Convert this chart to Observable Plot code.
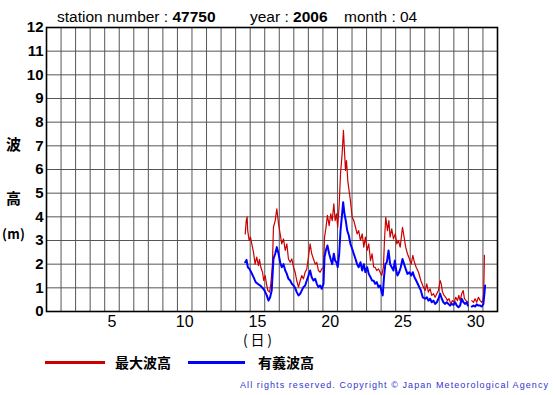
<!DOCTYPE html>
<html><head><meta charset="utf-8">
<script src="https://cdn.jsdelivr.net/npm/d3@7"></script>
<script src="https://cdn.jsdelivr.net/npm/@observablehq/plot@0.6"></script>
<style>html,body{margin:0;padding:0;background:#fff;} #chart{position:relative;width:555px;height:395px;}</style>
</head><body><div id="chart"></div>
<script>
const stationNumber = "47750", yearText = "2006", monthText = "04";

// time in days since 1 April 00:00 ; heights in metres
const maxTimes = [13.66,13.73,13.79,13.83,13.93,14.02,14.11,14.23,14.34,14.45,
14.57,14.64,14.73,14.85,14.93,15.03,15.12,15.21,15.33,15.42,
15.53,15.60,15.72,15.83,15.95,16.06,16.17,16.29,16.41,16.52,
16.63,16.75,16.86,16.98,17.09,17.20,17.32,17.44,17.55,17.66,
17.78,17.89,18.01,18.12,18.23,18.35,18.47,18.58,18.69,18.81,
18.92,19.04,19.11,19.20,19.31,19.43,19.54,19.64,19.75,19.84,
19.93,20.02,20.12,20.21,20.32,20.41,20.48,20.55,20.62,20.71,
20.80,20.89,21.01,21.12,21.24,21.35,21.46,21.58,21.70,21.81,
21.92,22.04,22.15,22.27,22.38,22.49,22.59,22.70,22.82,22.93,
23.04,23.16,23.23,23.32,23.44,23.53,23.62,23.73,23.85,23.97,
24.08,24.19,24.31,24.47,24.58,24.69,24.81,24.95,25.07,25.18,
25.29,25.41,25.57,25.73,25.86,25.91,26.03,26.14,26.25,26.37,
26.48,26.60,26.71,26.83,26.94,27.06,27.13,27.22,27.33,27.44,
27.56,27.67,27.79,27.90,28.02,28.13,28.25,28.34,28.43,28.54,
28.64,28.73,28.84,28.96,29.10,29.23,29.35,29.46,29.57,29.69,
29.81,29.92,29.99,30.05,30.10];
const maxHeights = [3.28,3.84,4.0,3.42,3.0,3.14,2.86,2.5,2.0,2.3,
1.94,2.2,1.87,1.66,1.31,1.52,1.17,0.89,0.82,1.17,
2.0,3.56,3.84,4.34,3.7,3.28,2.86,3.07,2.58,2.86,
2.22,2.08,2.22,1.87,1.66,1.31,1.03,1.31,1.52,1.38,
1.66,1.8,2.3,2.86,2.44,2.22,2.0,2.08,1.73,1.66,
1.8,1.87,3.14,3.49,4.06,3.63,4.13,3.84,4.55,3.84,
4.13,3.56,4.55,5.82,6.66,7.65,6.8,5.96,6.38,5.53,
5.1,4.69,3.98,3.84,3.56,3.28,3.42,3.0,3.28,2.72,
3.14,2.58,2.86,2.15,2.44,1.87,1.87,1.73,1.8,1.66,
1.52,1.87,3.0,3.98,3.42,3.84,3.14,3.49,3.07,3.28,
2.86,3.0,2.72,3.56,3.14,2.72,2.44,2.22,2.0,2.37,
2.08,1.87,1.66,1.31,1.1,1.03,0.89,1.17,0.82,0.96,
0.68,0.75,0.6,0.75,0.89,1.31,1.17,0.82,0.68,0.6,
0.46,0.54,0.32,0.46,0.39,0.6,0.46,0.68,0.46,0.75,
0.89,0.54,0.46,0.39,null,0.46,0.39,0.54,0.39,0.6,
0.46,0.39,0.46,0.75,2.37];

const sigTimes = [13.66,13.75,13.84,13.95,14.07,14.23,14.38,14.52,14.69,14.85,
14.98,15.14,15.26,15.37,15.48,15.60,15.72,15.83,15.95,16.06,
16.17,16.29,16.41,16.52,16.63,16.75,16.86,16.98,17.09,17.20,
17.32,17.44,17.55,17.66,17.78,17.89,18.01,18.12,18.23,18.35,
18.47,18.58,18.69,18.81,18.92,19.04,19.11,19.20,19.31,19.43,
19.54,19.64,19.75,19.84,19.93,20.02,20.12,20.21,20.32,20.39,
20.48,20.57,20.67,20.78,20.89,21.01,21.12,21.24,21.35,21.46,
21.58,21.70,21.81,21.92,22.04,22.15,22.27,22.38,22.49,22.59,
22.70,22.82,22.93,23.04,23.11,23.20,23.29,23.39,23.51,23.62,
23.73,23.85,23.94,24.04,24.12,24.24,24.35,24.47,24.58,24.69,
24.81,24.95,25.07,25.18,25.29,25.41,25.57,25.73,25.86,26.03,
26.14,26.25,26.37,26.48,26.60,26.71,26.83,26.94,27.06,27.17,
27.28,27.40,27.51,27.63,27.74,27.85,27.97,28.09,28.20,28.32,
28.43,28.54,28.66,28.78,28.89,28.96,29.10,29.23,29.35,29.46,
29.57,29.69,29.81,29.92,30.03,30.10,30.15];
const sigHeights = [2.08,2.18,1.87,1.8,1.66,1.45,1.24,1.17,1.1,1.0,
0.89,0.68,0.46,0.6,0.89,2.22,2.44,2.72,2.44,2.08,
1.87,2.0,1.73,1.59,1.38,1.31,1.17,1.1,1.0,0.82,
0.68,0.75,0.89,1.03,1.1,1.31,1.52,1.73,1.45,1.31,
1.38,1.17,1.03,1.1,0.96,1.17,2.3,2.58,2.79,2.44,
2.2,2.0,2.44,2.15,2.08,1.87,2.44,3.42,4.13,4.62,
4.13,3.84,3.42,3.21,2.86,2.65,2.44,2.22,2.0,1.87,
2.08,1.73,2.0,1.66,1.87,1.59,1.45,1.31,1.3,1.17,
1.24,1.03,1.1,0.82,0.68,1.45,2.0,2.08,2.58,2.0,
1.87,1.73,2.15,1.73,1.52,1.66,1.87,2.22,2.0,1.8,
1.59,1.66,1.52,1.66,1.45,1.31,1.1,0.89,0.6,0.54,
0.6,0.46,0.54,0.39,0.46,0.32,0.39,0.54,0.75,0.54,
0.39,0.32,0.39,0.32,0.25,0.32,0.28,0.39,0.25,0.18,
0.25,0.54,0.39,0.32,0.39,0.25,null,0.21,0.25,0.21,
0.3,0.25,0.25,0.21,0.32,0.75,1.1];

const dayGridLines = [0,1,2,3,4,5,6,7,8,9,10,11,12,13,14,15,16,17,18,19,20,21,22,23,24,25,26,27,28,29,30,31];
const yTicks = [0,1,2,3,4,5,6,7,8,9,10,11,12];
const xTickPositions = [4.5,9.5,14.5,19.5,24.5,29.5];
const xTickLabels = ["5","10","15","20","25","30"];
const seriesNames = ["最大波高","有義波高"];
const seriesColors = ["#cc0000","#0000ff"];

const maxData = maxTimes.map((t,i)=>({t, h: maxHeights[i]}));
const sigData = sigTimes.map((t,i)=>({t, h: sigHeights[i]}));
const xLabelAt = new Map(xTickPositions.map((p,i)=>[p, xTickLabels[i]]));

const W = 555, H = 395;
const svg = Plot.plot({
  width: W, height: H,
  marginLeft: 46, marginRight: 58, marginTop: 27, marginBottom: 84,
  x: {domain: [0, 31]},
  y: {domain: [0, 12]},
  style: {fontFamily: "'Liberation Sans', Arial, sans-serif", background: "#fff", color: "#000", overflow: "visible"},
  marks: [
    Plot.gridX(dayGridLines, {stroke: "#555", strokeOpacity: 1, strokeWidth: 1}),
    Plot.gridY(yTicks, {stroke: "#555", strokeOpacity: 1, strokeWidth: 1}),
    Plot.line(maxData, {x: "t", y: "h", stroke: seriesColors[0], strokeWidth: 1.2}),
    Plot.line(sigData, {x: "t", y: "h", stroke: seriesColors[1], strokeWidth: 2}),
    Plot.frame({stroke: "#000", strokeWidth: 1.6}),
    Plot.axisY(yTicks, {tickSize: 0, tickPadding: 3, fontSize: 15, fontWeight: "bold", label: null, fill: "#000"}),
    Plot.axisX(xTickPositions, {tickSize: 0, tickPadding: 4, fontSize: 16, label: null, fill: "#000",
      tickFormat: d => xLabelAt.get(d)})
  ]
});
document.getElementById("chart").appendChild(svg);

const s = d3.select(svg);
const latin = "'Liberation Sans', Arial, sans-serif";
const cjk = "'Noto Sans CJK JP', sans-serif";

// header
function header(x, label, value, bold) {
  const t = s.append("text").attr("x", x).attr("y", 22).attr("text-anchor", "start")
    .attr("font-family", latin).attr("font-size", 15.5).attr("fill", "#000");
  t.append("tspan").text(label);
  t.append("tspan").attr("font-weight", bold ? "bold" : "normal").text(value);
}
header(57, "station number : ", stationNumber, true);
header(250, "year : ", yearText, true);
header(344, "month : ", monthText, false);

// y label
[["波", 149.5, 15], ["高", 203.5, 15]].forEach(([txt, y, fs]) => s.append("text").attr("x", 13.5).attr("y", y)
  .attr("text-anchor", "middle").attr("font-family", cjk).attr("font-weight", "bold")
  .attr("font-size", fs).attr("fill", "#000").text(txt));
s.append("text").attr("x", 2).attr("y", 239).attr("text-anchor", "start")
  .attr("font-family", cjk).attr("font-weight", "bold").attr("font-size", 13).attr("fill", "#000")
  .attr("textLength", 23).attr("lengthAdjust", "spacing").text("(m)");

// x label
s.append("text").attr("x", 243).attr("y", 345).attr("text-anchor", "start")
  .attr("font-family", cjk).attr("font-size", 14).attr("fill", "#000")
  .attr("textLength", 29).attr("lengthAdjust", "spacing").text("(日)");

// legend
const leg = [[45, 105, 115], [188, 245, 258]];
leg.forEach(([x1, x2, tx], i) => {
  s.append("line").attr("x1", x1).attr("x2", x2).attr("y1", 362.5).attr("y2", 362.5)
    .attr("stroke", seriesColors[i]).attr("stroke-width", 3);
  s.append("text").attr("x", tx).attr("y", 367.8).attr("text-anchor", "start").attr("font-family", cjk)
    .attr("font-weight", "bold").attr("font-size", 14).attr("fill", "#000").text(seriesNames[i]);
});

// copyright
s.append("text").attr("x", 240).attr("y", 388).attr("text-anchor", "start").attr("font-family", latin)
  .attr("font-size", 9).attr("fill", "#3333cc").attr("textLength", 308).attr("lengthAdjust", "spacing")
  .text("All rights reserved. Copyright © Japan Meteorological Agency");
</script>
</body></html>
